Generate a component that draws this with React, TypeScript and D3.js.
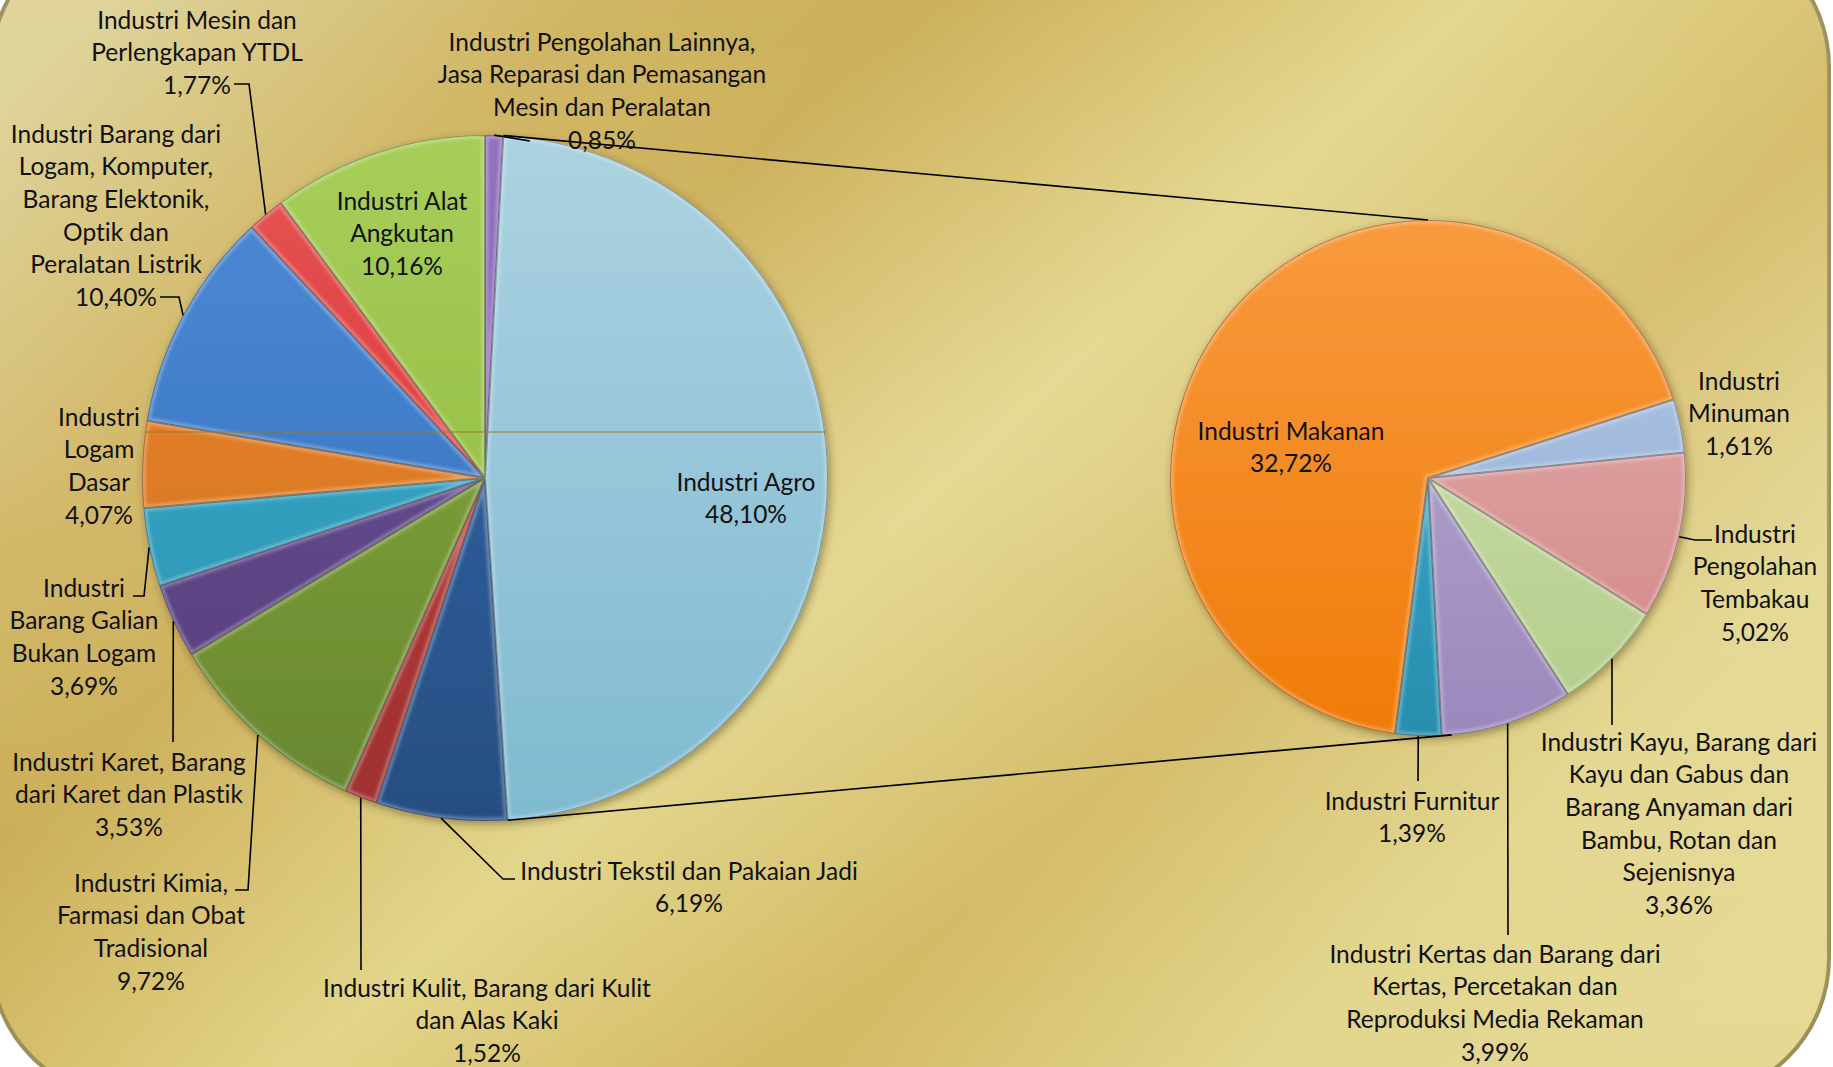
import React from 'react';
import * as d3 from 'd3';

// ---------- DATA ----------
const leftCategories = [
  'Industri Pengolahan Lainnya, Jasa Reparasi dan Pemasangan Mesin dan Peralatan',
  'Industri Agro',
  'Industri Tekstil dan Pakaian Jadi',
  'Industri Kulit, Barang dari Kulit dan Alas Kaki',
  'Industri Kimia, Farmasi dan Obat Tradisional',
  'Industri Karet, Barang dari Karet dan Plastik',
  'Industri Barang Galian Bukan Logam',
  'Industri Logam Dasar',
  'Industri Barang dari Logam, Komputer, Barang Elektonik, Optik dan Peralatan Listrik',
  'Industri Mesin dan Perlengkapan YTDL',
  'Industri Alat Angkutan',
];
const leftValues = [0.85, 48.10, 6.19, 1.52, 9.72, 3.53, 3.69, 4.07, 10.40, 1.77, 10.16];
const leftColors = ['#8660b8', '#99c8da', '#2f5e9e', '#b93838', '#7c9f38', '#63498f', '#2fa6c9', '#e97d1f', '#3b7dd0', '#e04040', '#9cc846'];

const rightCategories = [
  'Industri Minuman',
  'Industri Pengolahan Tembakau',
  'Industri Kayu, Barang dari Kayu dan Gabus dan Barang Anyaman dari Bambu, Rotan dan Sejenisnya',
  'Industri Kertas dan Barang dari Kertas, Percetakan dan Reproduksi Media Rekaman',
  'Industri Furnitur',
  'Industri Makanan',
];
const rightValues = [1.61, 5.02, 3.36, 3.99, 1.39, 32.72];
const rightColors = ['#a3bbde', '#dc9e9e', '#c4d8a2', '#ae9fca', '#2fa6cb', '#f78d25'];

// ---------- LAYOUT ----------
const W = 1833, H = 1067;
const L = { cx: 485, cy: 478, r: 343 };
const R = { cx: 1428, cy: 478, r: 258 };
const rightStartDeg = 72.3;
const LINE = 32.7;
const FONT = 'Lato, "Open Sans", sans-serif';
const FS = 24.5;

const leftLabelLayout = [
  { x: 602, y: 42, lines: ['Industri Pengolahan Lainnya,', 'Jasa Reparasi dan Pemasangan', 'Mesin dan Peralatan'], leader: [[530, 141]] },
  { x: 746, y: 482, lines: ['Industri Agro'], leader: null },
  { x: 689, y: 871, lines: ['Industri Tekstil dan Pakaian Jadi'], leader: [[503, 879], [515, 879]] },
  { x: 487, y: 988, lines: ['Industri Kulit, Barang dari Kulit', 'dan Alas Kaki'], leader: [[361, 970]] },
  { x: 151, y: 883, lines: ['Industri Kimia,', 'Farmasi dan Obat', 'Tradisional'], leader: [[248, 890], [235, 890]] },
  { x: 129, y: 762, lines: ['Industri Karet, Barang', 'dari Karet dan Plastik'], leader: [[173, 742]] },
  { x: 84, y: 588, lines: ['Industri', 'Barang Galian', 'Bukan Logam'], leader: [[144, 596], [133, 596]] },
  { x: 99, y: 417, lines: ['Industri', 'Logam', 'Dasar'], leader: null },
  { x: 116, y: 134, lines: ['Industri Barang dari', 'Logam, Komputer,', 'Barang Elektonik,', 'Optik dan', 'Peralatan Listrik'], leader: [[179, 297], [160, 297]] },
  { x: 197, y: 20, lines: ['Industri Mesin dan', 'Perlengkapan YTDL'], leader: [[249, 84], [234, 84]] },
  { x: 402, y: 201, lines: ['Industri Alat', 'Angkutan'], leader: null },
];

const rightLabelLayout = [
  { x: 1739, y: 381, lines: ['Industri', 'Minuman'], leader: null },
  { x: 1755, y: 534, lines: ['Industri', 'Pengolahan', 'Tembakau'], leader: [[1695, 540], [1712, 540]] },
  { x: 1679, y: 742, lines: ['Industri Kayu, Barang dari', 'Kayu dan Gabus dan', 'Barang Anyaman dari', 'Bambu, Rotan dan', 'Sejenisnya'], leader: [[1612, 725]] },
  { x: 1495, y: 954, lines: ['Industri Kertas dan Barang dari', 'Kertas, Percetakan dan', 'Reproduksi Media Rekaman'], leader: [[1508, 935]] },
  { x: 1412, y: 801, lines: ['Industri Furnitur'], leader: [[1418, 781]] },
  { x: 1291, y: 431, lines: ['Industri Makanan'], leader: null },
];

const fmt = (v: number) => v.toFixed(2).replace('.', ',') + '%';
const rad = (d: number) => (d * Math.PI) / 180;

function edgePoint(c: { cx: number; cy: number; r: number }, a: number) {
  return [c.cx + c.r * Math.sin(a), c.cy - c.r * Math.cos(a)];
}

function shade(base: string, dl: number) {
  const h = d3.hsl(base);
  h.l = Math.max(0, Math.min(1, h.l + dl));
  return h.formatHex();
}

function Pie({ id, c, values, colors, start }: any) {
  const pie = d3.pie<number>().sort(null).value((d) => d).startAngle(start).endAngle(start + 2 * Math.PI);
  const arcs = pie(values);
  const arc = d3.arc<d3.PieArcDatum<number>>().innerRadius(0).outerRadius(c.r);
  return (
    <g>
      <defs>
        {arcs.map((a, i) => {
          const base = colors[i];
          return (
            <linearGradient key={i} id={`${id}-g${i}`} gradientUnits="userSpaceOnUse" x1={0} y1={-c.r} x2={0} y2={c.r}>
              <stop offset="0" stopColor={shade(base, 0.05)} />
              <stop offset="1" stopColor={shade(base, -0.07)} />
            </linearGradient>
          );
        })}
        {arcs.map((a, i) => (
          <clipPath key={i} id={`${id}-c${i}`}>
            <path d={arc(a) || ''} />
          </clipPath>
        ))}
        <filter id={`${id}-sh`} x="-20%" y="-20%" width="140%" height="140%">
          <feDropShadow dx="2" dy="3" stdDeviation="4" floodColor="#3a2e10" floodOpacity="0.45" />
        </filter>
        <filter id={`${id}-blur`}>
          <feGaussianBlur stdDeviation="1.5" />
        </filter>
      </defs>
      <g transform={`translate(${c.cx},${c.cy})`}>
        <g filter={`url(#${id}-sh)`}>
          {arcs.map((a, i) => (
            <path key={i} d={arc(a) || ''} fill={`url(#${id}-g${i})`} />
          ))}
        </g>
        {arcs.map((a, i) => (
          <g key={i} clipPath={`url(#${id}-c${i})`}>
            <path d={arc(a) || ''} fill="none" stroke="#ffffff" strokeOpacity={0.28} strokeWidth={7} filter={`url(#${id}-blur)`} />
            <path d={arc(a) || ''} fill="none" stroke="#000000" strokeOpacity={0.3} strokeWidth={2} />
          </g>
        ))}
      </g>
    </g>
  );
}

function Label({ x, y, lines }: { x: number; y: number; lines: string[] }) {
  return (
    <text x={x} y={y} textAnchor="middle" fontFamily={FONT} fontSize={FS} fill="#111" style={{ fontVariantLigatures: 'none' }}>
      {lines.map((t, i) => (
        <tspan key={i} x={x} y={y + i * LINE} dy="0.35em">{t}</tspan>
      ))}
    </text>
  );
}

export default function App() {
  const leftPie = d3.pie<number>().sort(null).value((d) => d)(leftValues);
  const rStart = rad(rightStartDeg);
  const rightPie = d3.pie<number>().sort(null).value((d) => d).startAngle(rStart).endAngle(rStart + 2 * Math.PI)(rightValues);

  const agro = leftPie[1];
  const cTop = edgePoint(L, agro.startAngle);
  const cBot = edgePoint(L, agro.endAngle);
  const rTop = edgePoint(R, 0);
  const rBot = edgePoint(R, rad(174.7));

  const leaderPath = (c: any, a: d3.PieArcDatum<number>, pts: number[][]) => {
    const p0 = edgePoint(c, (a.startAngle + a.endAngle) / 2);
    return d3.line()([p0 as [number, number], ...(pts as [number, number][])]) || '';
  };

  return (
    <svg width={W} height={H} style={{ position: 'absolute', left: 0, top: 0, background: '#fff' }}>
      <defs>
        <linearGradient id="bg" x1="0" y1="0.15" x2="1" y2="0.85">
          <stop offset="0" stopColor="#ddd195" />
          <stop offset="0.18" stopColor="#cdb159" />
          <stop offset="0.3" stopColor="#c9ab50" />
          <stop offset="0.5" stopColor="#e2d487" />
          <stop offset="0.68" stopColor="#d2b962" />
          <stop offset="0.85" stopColor="#e2d58c" />
          <stop offset="1" stopColor="#e4d893" />
        </linearGradient>
        <linearGradient id="bgv" x1="0" y1="0" x2="0" y2="1">
          <stop offset="0" stopColor="#ffffff" stopOpacity="0.05" />
          <stop offset="0.45" stopColor="#ffffff" stopOpacity="0.12" />
          <stop offset="1" stopColor="#ffffff" stopOpacity="0" />
        </linearGradient>
      </defs>
      <rect x={-9} y={-73} width={1838} height={1171} rx={140} ry={140} fill="url(#bg)" stroke="#9c9058" strokeWidth={4} />
      <rect x={-9} y={-73} width={1838} height={1171} rx={140} ry={140} fill="url(#bgv)" />

      <Pie id="lp" c={L} values={leftValues} colors={leftColors} start={0} />
      <Pie id="rp" c={R} values={rightValues} colors={rightColors} start={rStart} />

      <line x1={145} x2={826} y1={432} y2={432} stroke="#9a7b2c" strokeWidth={1.2} />

      <g stroke="#000" strokeWidth={1.6} fill="none">
        <line x1={cTop[0]} y1={cTop[1]} x2={rTop[0]} y2={rTop[1]} />
        <line x1={cBot[0]} y1={cBot[1]} x2={rBot[0]} y2={rBot[1]} />
        {leftLabelLayout.map((lb, i) => lb.leader ? <path key={i} d={leaderPath(L, leftPie[i], lb.leader)} /> : null)}
        {rightLabelLayout.map((lb, i) => lb.leader ? <path key={'r' + i} d={leaderPath(R, rightPie[i], lb.leader)} /> : null)}
      </g>

      {leftLabelLayout.map((lb, i) => (
        <Label key={i} x={lb.x} y={lb.y} lines={[...lb.lines, fmt(leftValues[i])]} />
      ))}
      {rightLabelLayout.map((lb, i) => (
        <Label key={'r' + i} x={lb.x} y={lb.y} lines={[...lb.lines, fmt(rightValues[i])]} />
      ))}
    </svg>
  );
}
